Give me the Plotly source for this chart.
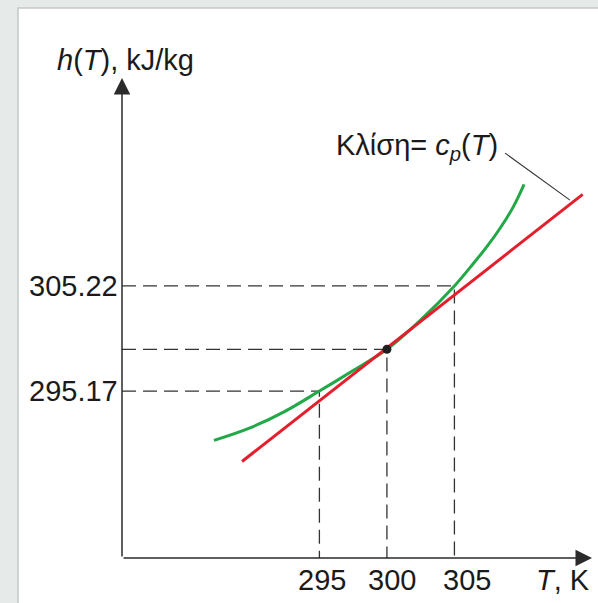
import plotly.graph_objects as go

# ---------------- data ----------------
# enthalpy curve h(T) (green)
T_curve = [287.19, 289.86, 292.45, 295.0, 297.41, 300.0, 302.45, 305.0, 306.40, 307.39, 308.37, 309.36, 310.16]
h_curve = [290.45, 291.65, 293.23, 295.17, 297.06, 299.16, 301.90, 305.22, 307.36, 308.95, 310.71, 312.78, 314.93]

# tangent line at T = 300 K (red), slope = c_p(T)
T_tangent = [289.27, 314.50]
h_tangent = [288.44, 313.97]

# marked point and reference temperatures
T_ref = [295, 300, 305]
h_ref = [295.17, 299.16, 305.22]
x_tick_labels = ["295", "300", "305"]
y_tick_vals = [295.17, 305.22]
y_tick_labels = ["295.17", "305.22"]

# axis extents
x_range = [280.38, 315.19]
y_range = [279.21, 325.10]

# leader line for the slope label
leader_T = [308.75, 313.56]
leader_h = [317.92, 313.42]

FONT = "Liberation Sans, Arial, Helvetica, sans-serif"
TXT = "#1a1a1a"
AX = "#2b2b2b"
FS = 29

fig = go.Figure()

# dashed guide lines
for T, h in zip(T_ref, h_ref):
    fig.add_trace(go.Scatter(x=[x_range[0], T, T], y=[h, h, y_range[0]], mode="lines",
                             line=dict(color="#333333", width=1.3, dash="14px,7px"),
                             hoverinfo="skip", showlegend=False))

fig.add_trace(go.Scatter(x=T_curve, y=h_curve, mode="lines",
                         line=dict(color="#22a846", width=3, shape="spline", smoothing=1.0),
                         showlegend=False))
fig.add_trace(go.Scatter(x=T_tangent, y=h_tangent, mode="lines",
                         line=dict(color="#e41f2d", width=3),
                         showlegend=False))
fig.add_trace(go.Scatter(x=[T_ref[1]], y=[h_ref[1]], mode="markers",
                         marker=dict(color="#1f1f1f", size=9),
                         showlegend=False))
fig.add_trace(go.Scatter(x=leader_T, y=leader_h, mode="lines",
                         line=dict(color="#333333", width=1.1),
                         showlegend=False))

ann = []
# axes with arrowheads
ann.append(dict(x=x_range[1], y=y_range[0], ax=x_range[0], ay=y_range[0],
                xref="x", yref="y", axref="x", ayref="y", text="", showarrow=True,
                arrowhead=2, arrowsize=2.2, arrowwidth=1.5, arrowcolor=AX))
ann.append(dict(x=x_range[0], y=y_range[1], ax=x_range[0], ay=y_range[0],
                xref="x", yref="y", axref="x", ayref="y", text="", showarrow=True,
                arrowhead=2, arrowsize=2.2, arrowwidth=1.5, arrowcolor=AX))

# x tick labels
shifts = [3, 5, 13]
for T, lab, s in zip(T_ref, x_tick_labels, shifts):
    ann.append(dict(x=T, y=0, xref="x", yref="paper", yanchor="top", xanchor="center",
                    text=lab, showarrow=False, xshift=s, yshift=-4,
                    font=dict(family=FONT, size=FS, color=TXT)))
# y tick labels
for v, lab in zip(y_tick_vals, y_tick_labels):
    ann.append(dict(x=0, y=v, xref="paper", yref="y", xanchor="right", yanchor="middle",
                    text=lab, showarrow=False, xshift=-2,
                    font=dict(family=FONT, size=FS, color=TXT)))

# axis titles
ann.append(dict(x=-0.1426, y=1.0375, xref="paper", yref="paper", xanchor="left", yanchor="middle",
                text="<i>h</i>(<i>T</i>), kJ/kg", showarrow=False,
                font=dict(family=FONT, size=FS, color=TXT)))
ann.append(dict(x=1.0, y=-0.045, xref="paper", yref="paper", xanchor="right", yanchor="middle",
                text="<i>T</i>, K", showarrow=False,
                font=dict(family=FONT, size=FS, color=TXT)))
# slope label
ann.append(dict(x=0.8034, y=0.857, xref="paper", yref="paper", xanchor="right", yanchor="middle",
                text="Κλίση= <i>c</i><sub><i>p</i></sub>(<i>T</i>)", showarrow=False,
                font=dict(family=FONT, size=FS, color=TXT)))

fig.update_layout(
    width=598, height=603,
    margin=dict(l=122, r=6, t=78, b=45, pad=0),
    paper_bgcolor="#e6ebe9",
    plot_bgcolor="rgba(0,0,0,0)",
    xaxis=dict(range=x_range, visible=False, fixedrange=True),
    yaxis=dict(range=y_range, visible=False, fixedrange=True),
    annotations=ann,
    shapes=[dict(type="rect", xref="paper", yref="paper",
                 x0=(18 - 122) / 470, x1=1.1, y0=-0.2, y1=(558 - 8) / 480,
                 fillcolor="white", line=dict(color="#c4c9c7", width=1.5), layer="below")],
    showlegend=False,
)

fig.write_html("out.html", config={"displayModeBar": False},
               post_script="document.body.style.margin='0';document.body.style.overflow='hidden';")
